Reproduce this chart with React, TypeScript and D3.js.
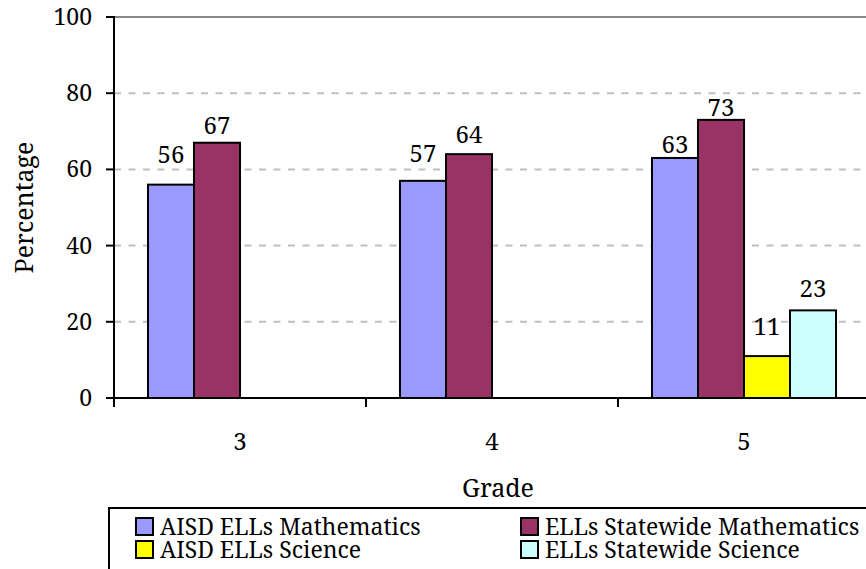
import React from "react";
import * as d3 from "d3";

// Grade-level passing rates (percent)
const grades = ["3", "4", "5"];
const seriesNames = [
  "AISD ELLs Mathematics",
  "ELLs Statewide Mathematics",
  "AISD ELLs Science",
  "ELLs Statewide Science",
];
const seriesColors = ["#9999FF", "#993366", "#FFFF00", "#CCFFFF"];
const aisdMath = [56, 57, 63];
const stateMath = [67, 64, 73];
const aisdScience = [null, null, 11];
const stateScience = [null, null, 23];
const yTicks = [0, 20, 40, 60, 80, 100];
// Vertical gap between each data label baseline and its bar top, per series/grade
const labelLift = [
  [22, 19, 5],
  [9, 11, 4],
  [0, 0, 21],
  [0, 0, 13],
];

const W = 866;
const H = 569;
const FONT = "'Noto Serif', 'DejaVu Serif', serif";

export default function App() {
  const values = [aisdMath, stateMath, aisdScience, stateScience];
  const left = 114;
  const right = 870;
  const top = 17;
  const bottom = 398;

  const x = d3.scaleBand<string>().domain(grades).range([left, right]);
  const inner = d3
    .scaleBand<number>()
    .domain(d3.range(seriesNames.length))
    .range([0, x.bandwidth()])
    .paddingInner(0)
    .paddingOuter(0.739);
  const y = d3.scaleLinear().domain([0, 100]).range([bottom, top]);

  const tickX = [...grades.map((g) => x(g)!), right];

  return (
    <svg
      width={W}
      height={H}
      style={{ position: "absolute", left: 0, top: 0, background: "#fff", fontFamily: FONT }}
    >
      {/* gridlines */}
      {yTicks
        .filter((t) => t > 0 && t < 100)
        .map((t) => (
          <line key={"g" + t} x1={left} x2={W} y1={y(t)} y2={y(t)} stroke="#C0C0C0" strokeWidth={2} strokeDasharray="7 7.5" />
        ))}
      <line x1={left} x2={W} y1={y(100)} y2={y(100)} stroke="#888" strokeWidth={2} />

      {/* bars */}
      {values.map((vals, si) =>
        vals.map((v, gi) =>
          v == null ? null : (
            <rect key={`b${si}-${gi}`} x={x(grades[gi])! + inner(si)!} y={y(v)} width={inner.bandwidth()} height={y(0) - y(v)} fill={seriesColors[si]} stroke="#000" strokeWidth={2} />
          )
        )
      )}

      {/* data labels */}
      {values.map((vals, si) =>
        vals.map((v, gi) =>
          v == null ? null : (
            <text key={`l${si}-${gi}`} x={x(grades[gi])! + inner(si)! + inner.bandwidth() / 2} y={y(v) - labelLift[si][gi]} textAnchor="middle" fontSize={24} fill="#000">
              {v}
            </text>
          )
        )
      )}

      {/* y axis */}
      <line x1={left} x2={left} y1={top - 1} y2={bottom + 1} stroke="#000" strokeWidth={2} />
      {yTicks.map((t) => (
        <g key={"y" + t}>
          <line x1={left - 8} x2={left} y1={y(t)} y2={y(t)} stroke="#000" strokeWidth={2} />
          <text x={left - 22} y={y(t)} dy="0.35em" textAnchor="end" fontSize={23} fill="#000">
            {t}
          </text>
        </g>
      ))}

      {/* x axis */}
      <line x1={left - 1} x2={W} y1={bottom} y2={bottom} stroke="#000" strokeWidth={2} />
      {tickX.map((tx, i) => (
        <line key={"xt" + i} x1={tx} x2={tx} y1={bottom} y2={bottom + 9} stroke="#000" strokeWidth={2} />
      ))}
      {grades.map((g) => (
        <text key={"xl" + g} x={x(g)! + x.bandwidth() / 2} y={450} textAnchor="middle" fontSize={24} fill="#000">
          {g}
        </text>
      ))}

      {/* axis titles */}
      <text x={498} y={497} textAnchor="middle" fontSize={25} fill="#000">
        Grade
      </text>
      <text transform={`translate(33, ${(top + bottom) / 2}) rotate(-90)`} textAnchor="middle" fontSize={25} fill="#000">
        Percentage
      </text>

      {/* legend */}
      <rect x={109} y={508} width={800} height={100} fill="#fff" stroke="#000" strokeWidth={2} />
      {seriesNames.map((name, i) => {
        const col = i % 2;
        const row = Math.floor(i / 2);
        const lx = col === 0 ? 136 : 521;
        const ly = 518 + row * 23;
        return (
          <g key={"lg" + i}>
            <rect x={lx} y={ly} width={17} height={17} fill={seriesColors[i]} stroke="#000" strokeWidth={2} />
            <text x={lx + 24} y={ly + 17} fontSize={23} fill="#000">
              {name}
            </text>
          </g>
        );
      })}
    </svg>
  );
}
